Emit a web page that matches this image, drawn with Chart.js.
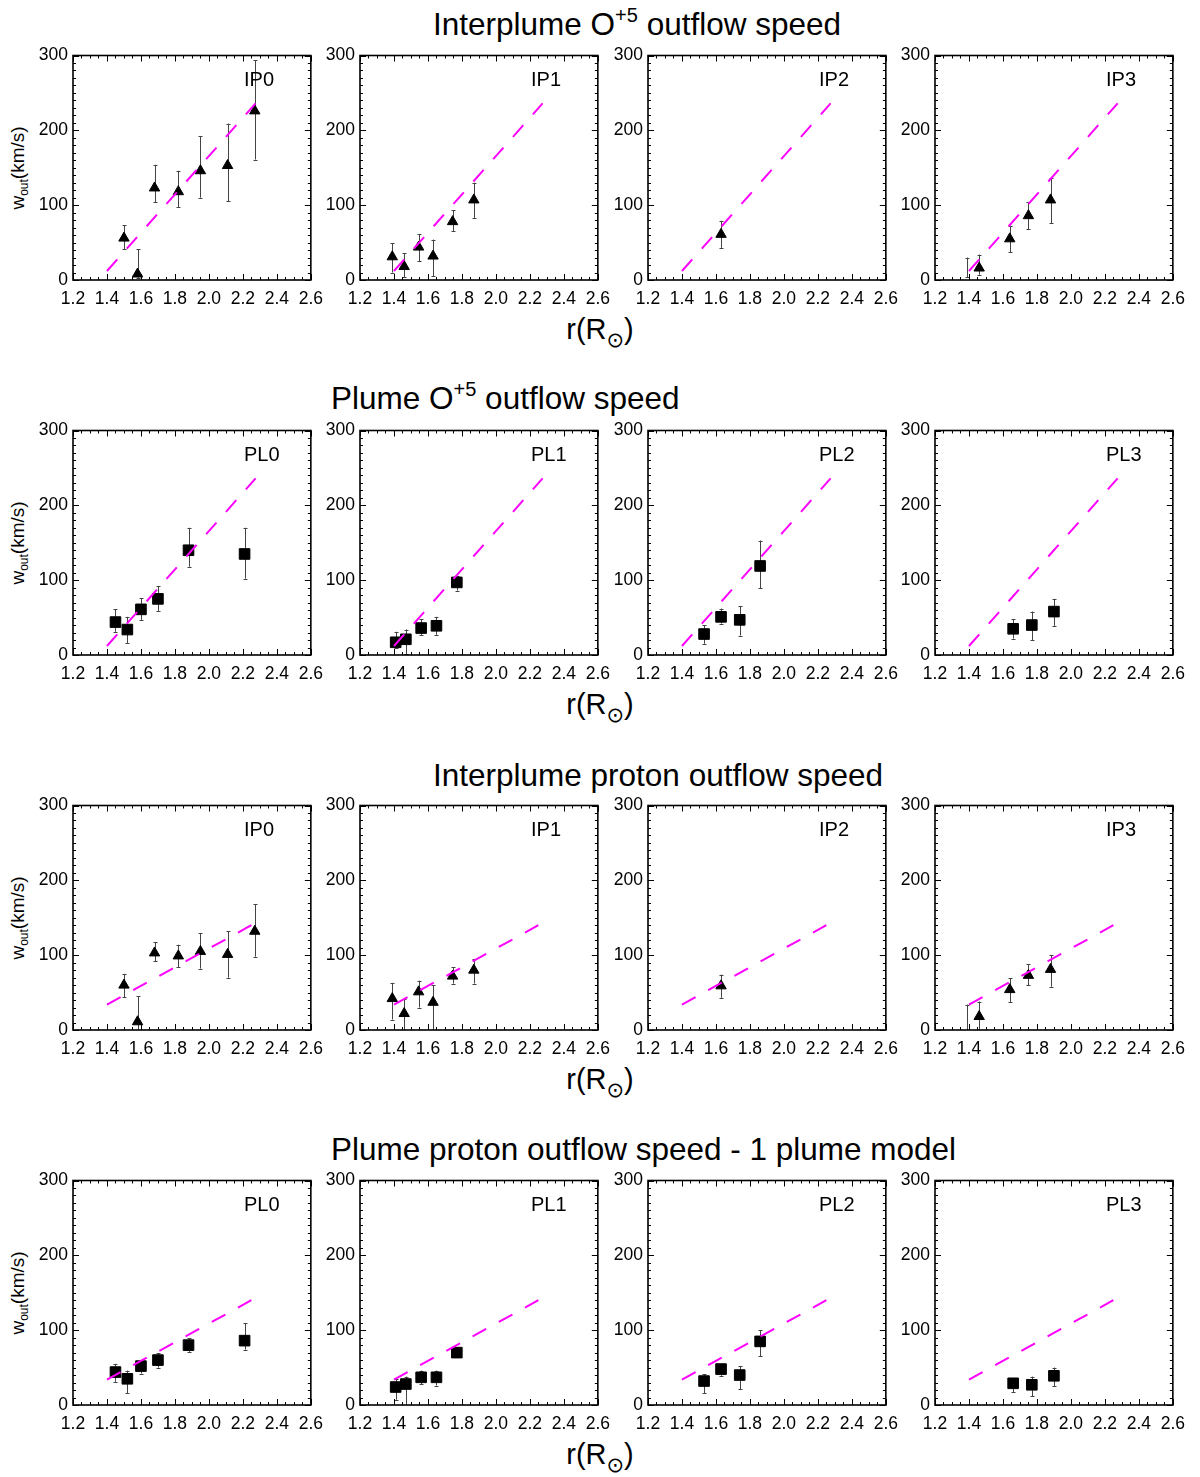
<!DOCTYPE html>
<html><head><meta charset="utf-8">
<script src="https://cdn.jsdelivr.net/npm/chart.js@4.4.0/dist/chart.umd.min.js"></script>
<style>
body{margin:0;background:#fff;width:1200px;height:1477px;position:relative;overflow:hidden;font-family:"Liberation Sans",Arial,Helvetica,sans-serif;color:#000;}
canvas{position:absolute;}
.title{position:absolute;font-size:31.5px;line-height:31.5px;white-space:nowrap;}
.title sup{font-size:20px;line-height:0;position:relative;top:-13px;vertical-align:baseline;}
.xlab{position:absolute;font-size:29px;line-height:29px;white-space:nowrap;transform:translateX(-50%);}
.xlab sub{font-size:21px;line-height:0;position:relative;top:8px;vertical-align:baseline;font-family:"DejaVu Sans",sans-serif;}
.ylab{position:absolute;font-size:19px;line-height:19px;white-space:nowrap;transform:translate(-50%,-50%) rotate(-90deg);}
.ylab sub{font-size:12px;line-height:0;position:relative;top:4px;vertical-align:baseline;}
</style>
</head><body>
<script>
// ---------- tick labels ----------
const xTicks = [1.2, 1.4, 1.6, 1.8, 2.0, 2.2, 2.4, 2.6];
const yTicks = [0, 100, 200, 300];

// ---------- row titles ----------
const rowTitles = [
  'Interplume O<sup>+5</sup> outflow speed',
  'Plume O<sup>+5</sup> outflow speed',
  'Interplume proton outflow speed',
  'Plume proton outflow speed - 1 plume model'
];
const panelNames = [['IP0','IP1','IP2','IP3'],['PL0','PL1','PL2','PL3'],['IP0','IP1','IP2','IP3'],['PL0','PL1','PL2','PL3']];

// ---------- model (dashed) lines ----------
const o5Model_r = [1.4, 2.275];
const o5Model_w = [12, 236];
const pModel_r = [1.4, 2.25];
const pModel_w = [34, 140];

// ---------- Row 1: Interplume O+5 ----------
const o5_IP0_r  = [1.50, 1.58, 1.68, 1.82, 1.95, 2.11, 2.27];
const o5_IP0_w  = [56, 8, 123, 118, 146, 153, 226];
const o5_IP0_lo = [41, 3, 104, 97, 110, 105, 161];
const o5_IP0_hi = [73, 41, 154, 146, 192, 209, 294];

const o5_IP1_r  = [1.39, 1.46, 1.545, 1.63, 1.745, 1.87];
const o5_IP1_w  = [31, 18, 44, 32, 78, 107];
const o5_IP1_lo = [10, 4, 25, 5, 65, 83];
const o5_IP1_hi = [49, 36, 61, 54, 93, 130];

const o5_IP2_r  = [1.63];
const o5_IP2_w  = [61];
const o5_IP2_lo = [43];
const o5_IP2_hi = [79];

const o5_IP3_r  = [1.39, 1.46, 1.64, 1.75, 1.88];
const o5_IP3_w  = [null, 16, 55, 86, 107];
const o5_IP3_lo = [4, 7, 37, 68, 76];
const o5_IP3_hi = [30, 34, 72, 104, 136];

// ---------- Row 2: Plume O+5 ----------
const o5_PL0_r  = [1.45, 1.52, 1.60, 1.70, 1.88, 2.21];
const o5_PL0_w  = [44, 34, 61, 75, 140, 135];
const o5_PL0_lo = [31, 16, 47, 59, 118, 102];
const o5_PL0_hi = [61, 51, 76, 92, 170, 170];

const o5_PL1_r  = [1.41, 1.47, 1.56, 1.65, 1.77];
const o5_PL1_w  = [17, 21, 36, 39, 97];
const o5_PL1_lo = [10, 1, 27, 27, 86];
const o5_PL1_hi = [31, 34, 48, 51, 105];

const o5_PL2_r  = [1.53, 1.63, 1.74, 1.86];
const o5_PL2_w  = [28, 51, 47, 119];
const o5_PL2_lo = [15, 42, 26, 89];
const o5_PL2_hi = [40, 62, 65, 153];

const o5_PL3_r  = [1.66, 1.77, 1.90];
const o5_PL3_w  = [35, 40, 58];
const o5_PL3_lo = [22, 20, 39];
const o5_PL3_hi = [48, 58, 75];

// ---------- Row 3: Interplume proton ----------
const p_IP0_r  = [1.50, 1.58, 1.68, 1.82, 1.95, 2.11, 2.27];
const p_IP0_w  = [60, 11, 103, 99, 105, 101, 132];
const p_IP0_lo = [44, 0, 92, 84, 82, 70, 98];
const p_IP0_hi = [75, 45, 117, 114, 129, 132, 168];

const p_IP1_r  = [1.39, 1.46, 1.545, 1.63, 1.745, 1.87];
const p_IP1_w  = [42, 22, 51, 37, 72, 80];
const p_IP1_lo = [14, 0, 30, 0, 62, 62];
const p_IP1_hi = [63, 41, 66, 60, 84, 95];

const p_IP2_r  = [1.63];
const p_IP2_w  = [59];
const p_IP2_lo = [43];
const p_IP2_hi = [74];

const p_IP3_r  = [1.39, 1.46, 1.64, 1.75, 1.88];
const p_IP3_w  = [null, 18, 54, 73, 81];
const p_IP3_lo = [0, 0, 37, 60, 58];
const p_IP3_hi = [34, 38, 69, 88, 100];

// ---------- Row 4: Plume proton (1 plume model) ----------
const p_PL0_r  = [1.45, 1.52, 1.60, 1.70, 1.88, 2.21];
const p_PL0_w  = [44, 35, 52, 60, 80, 86];
const p_PL0_lo = [31, 16, 42, 50, 71, 74];
const p_PL0_hi = [55, 46, 58, 69, 89, 109];

const p_PL1_r  = [1.41, 1.47, 1.56, 1.65, 1.77];
const p_PL1_w  = [24, 28, 37, 37, 70];
const p_PL1_lo = [7, 0, 28, 26, 64];
const p_PL1_hi = [35, 38, 46, 46, 76];

const p_PL2_r  = [1.53, 1.63, 1.74, 1.86];
const p_PL2_w  = [32, 48, 40, 85];
const p_PL2_lo = [16, 39, 21, 65];
const p_PL2_hi = [41, 54, 52, 100];

const p_PL3_r  = [1.66, 1.77, 1.90];
const p_PL3_w  = [29, 27, 39];
const p_PL3_lo = [17, 12, 25];
const p_PL3_hi = [36, 38, 50];

// ---------- assemble ----------
const rowsData = [
  [[o5_IP0_r,o5_IP0_w,o5_IP0_lo,o5_IP0_hi],[o5_IP1_r,o5_IP1_w,o5_IP1_lo,o5_IP1_hi],[o5_IP2_r,o5_IP2_w,o5_IP2_lo,o5_IP2_hi],[o5_IP3_r,o5_IP3_w,o5_IP3_lo,o5_IP3_hi]],
  [[o5_PL0_r,o5_PL0_w,o5_PL0_lo,o5_PL0_hi],[o5_PL1_r,o5_PL1_w,o5_PL1_lo,o5_PL1_hi],[o5_PL2_r,o5_PL2_w,o5_PL2_lo,o5_PL2_hi],[o5_PL3_r,o5_PL3_w,o5_PL3_lo,o5_PL3_hi]],
  [[p_IP0_r,p_IP0_w,p_IP0_lo,p_IP0_hi],[p_IP1_r,p_IP1_w,p_IP1_lo,p_IP1_hi],[p_IP2_r,p_IP2_w,p_IP2_lo,p_IP2_hi],[p_IP3_r,p_IP3_w,p_IP3_lo,p_IP3_hi]],
  [[p_PL0_r,p_PL0_w,p_PL0_lo,p_PL0_hi],[p_PL1_r,p_PL1_w,p_PL1_lo,p_PL1_hi],[p_PL2_r,p_PL2_w,p_PL2_lo,p_PL2_hi],[p_PL3_r,p_PL3_w,p_PL3_lo,p_PL3_hi]]
];
const rowModel = [[o5Model_r,o5Model_w],[o5Model_r,o5Model_w],[pModel_r,pModel_w],[pModel_r,pModel_w]];
const rowMarker = ['triangle','rect','triangle','rect'];

// ---------- layout (style) ----------
const FONT = '"Liberation Sans", Arial, Helvetica, sans-serif';
const colLeft = [73, 360, 648, 935];
const rowTop = [55, 430, 805, 1180];
const PW = 239, PH = 225;
const AXW = 60, PADT = 15, PADR = 20, AXH = 32, PADB = 5;
const titleLeft = [433, 331, 433, 331];
const titleBase = [36, 410, 787, 1161];
const xlabBase = [339, 714, 1089, 1464];

Chart.defaults.font.family = FONT;
Chart.defaults.color = '#000';

const framePlugin = {
  id: 'frame',
  beforeDatasetsDraw(chart) {
    const {ctx, chartArea: a, scales: {x, y}} = chart;
    const e = chart.options.plugins.frame.err;
    ctx.save();
    ctx.beginPath(); ctx.rect(a.left, a.top, a.width, a.height); ctx.clip();
    ctx.strokeStyle = '#444'; ctx.lineWidth = 1;
    ctx.beginPath();
    e.r.forEach((r, i) => {
      const px = Math.round(x.getPixelForValue(r)) + 0.5;
      const p1 = y.getPixelForValue(e.lo[i]);
      const p2 = y.getPixelForValue(e.hi[i]);
      ctx.moveTo(px, p1); ctx.lineTo(px, p2);
      ctx.moveTo(px - 2, Math.round(p1) + 0.5); ctx.lineTo(px + 2, Math.round(p1) + 0.5);
      ctx.moveTo(px - 2, Math.round(p2) + 0.5); ctx.lineTo(px + 2, Math.round(p2) + 0.5);
    });
    ctx.stroke();
    ctx.restore();
  },
  afterDraw(chart) {
    const {ctx, chartArea: a, scales: {x, y}} = chart;
    ctx.save();
    ctx.strokeStyle = '#000'; ctx.lineWidth = 1;
    ctx.beginPath();
    for (let k = 0; k <= 28; k++) {
      const v = 1.2 + k * 0.05;
      const px = Math.round(x.getPixelForValue(v)) + 0.5;
      const L = (k % 4 === 0) ? 6 : 3;
      ctx.moveTo(px, a.bottom); ctx.lineTo(px, a.bottom - L);
      ctx.moveTo(px, a.top); ctx.lineTo(px, a.top + L);
    }
    for (let k = 0; k <= 30; k++) {
      const py = Math.round(y.getPixelForValue(k * 10)) + 0.5;
      const L = (k % 10 === 0) ? 6 : 3;
      ctx.moveTo(a.left, py); ctx.lineTo(a.left + L, py);
      ctx.moveTo(a.right, py); ctx.lineTo(a.right - L, py);
    }
    ctx.stroke();
    ctx.lineWidth = 1.6;
    ctx.strokeRect(a.left, a.top, a.width, a.height);
    ctx.fillStyle = '#000';
    ctx.font = '20px ' + FONT;
    ctx.textBaseline = 'alphabetic';
    ctx.textAlign = 'left';
    ctx.fillText(chart.options.plugins.frame.label, a.left + 171, a.top + 30);
    ctx.restore();
  }
};

function addDiv(cls, html, left, top) {
  const d = document.createElement('div');
  d.className = cls; d.innerHTML = html;
  d.style.left = left + 'px'; d.style.top = top + 'px';
  document.body.appendChild(d);
  return d;
}

for (let row = 0; row < 4; row++) {
  addDiv('title', rowTitles[row], titleLeft[row], titleBase[row] - 26.7);
  addDiv('xlab', 'r(R<sub>\u2299</sub>)', 600, xlabBase[row] - 24.5);
  addDiv('ylab', 'w<sub>out</sub>(km/s)', 17, rowTop[row] + PH / 2);
  for (let col = 0; col < 4; col++) {
    const [r, w, lo, hi] = rowsData[row][col];
    const [mr, mw] = rowModel[row];
    const cv = document.createElement('canvas');
    const cw = AXW + PW + PADR, ch = PADT + PH + AXH + PADB;
    cv.width = cw; cv.height = ch;
    cv.style.width = cw + 'px'; cv.style.height = ch + 'px';
    cv.style.left = (colLeft[col] - AXW) + 'px';
    cv.style.top = (rowTop[row] - PADT) + 'px';
    document.body.appendChild(cv);
    new Chart(cv, {
      type: 'scatter',
      data: {
        datasets: [
          {
            type: 'line',
            data: mr.map((v, i) => ({x: v, y: mw[i]})),
            borderColor: '#ff00ff', borderWidth: 2, borderDash: [15.5, 14.4],
            borderCapStyle: 'butt',
            pointRadius: 0, fill: false, tension: 0
          },
          {
            data: r.map((v, i) => ({x: v, y: w[i]})),
            pointStyle: rowMarker[row],
            pointRadius: rowMarker[row] === 'rect' ? 7.5 : 6,
            backgroundColor: '#000', borderColor: '#000', borderWidth: 1,
            showLine: false
          }
        ]
      },
      options: {
        responsive: false, animation: false, devicePixelRatio: 1,
        layout: {padding: {top: PADT, right: PADR, bottom: PADB, left: 0}},
        plugins: {
          legend: {display: false}, tooltip: {enabled: false},
          frame: {label: panelNames[row][col], err: {r: r, lo: lo, hi: hi}}
        },
        scales: {
          x: {
            type: 'linear', min: 1.2, max: 2.6,
            afterBuildTicks: s => { s.ticks = xTicks.map(v => ({value: v})); },
            afterFit: s => { s.height = AXH; },
            grid: {display: false, drawTicks: false},
            border: {display: false},
            ticks: {autoSkip: false, maxRotation: 0, padding: 9, font: {size: 17.5},
                    callback: v => v.toFixed(1)}
          },
          y: {
            type: 'linear', min: 0, max: 300,
            afterBuildTicks: s => { s.ticks = yTicks.map(v => ({value: v})); },
            afterFit: s => { s.width = AXW; },
            grid: {display: false, drawTicks: false},
            border: {display: false},
            ticks: {padding: 5, font: {size: 17.5}, callback: v => String(v)}
          }
        }
      },
      plugins: [framePlugin]
    });
  }
}
</script>
</body></html>
